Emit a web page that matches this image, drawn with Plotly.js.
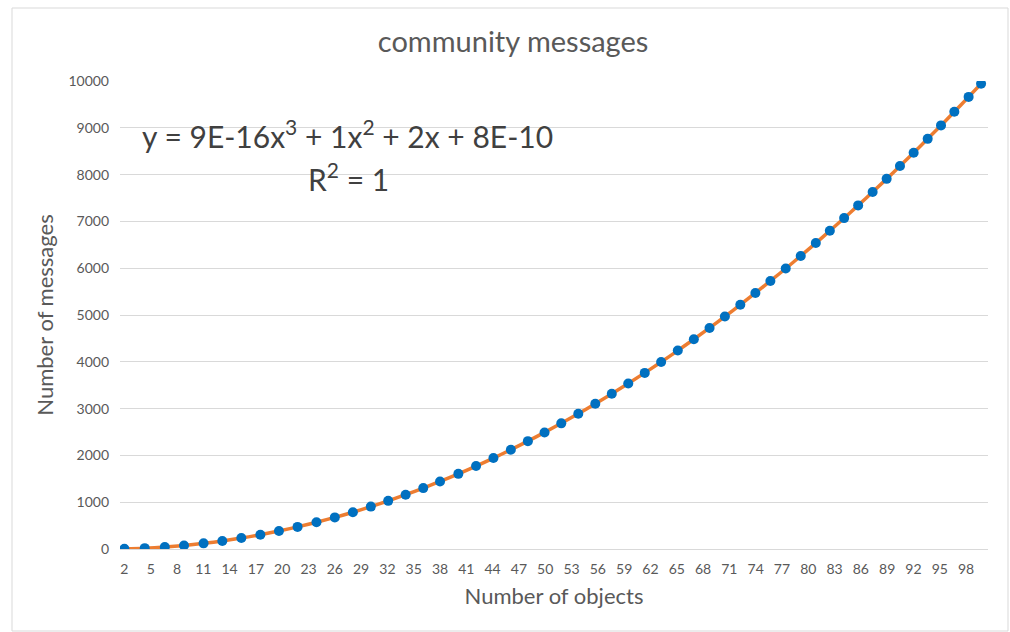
<!DOCTYPE html>
<html>
<head>
<meta charset="utf-8">
<script src="https://cdn.plot.ly/plotly-3.0.1.min.js"></script>
<style>html,body{margin:0;padding:0;background:#fff;}#chart{width:1010px;height:632px;}</style>
</head>
<body>
<div id="chart"></div>
<script>
// Number of objects (x position of each marker)
var objects = [2.00, 4.32, 6.61, 8.80, 11.03, 13.17, 15.34, 17.51, 19.63, 21.75,
  23.91, 26.00, 28.06, 30.11, 32.09, 34.08, 36.09, 38.00, 40.09, 42.11,
  44.09, 46.08, 48.02, 49.92, 51.83, 53.77, 55.71, 57.59, 59.47, 61.35,
  63.22, 65.12, 66.95, 68.74, 70.49, 72.25, 73.97, 75.68, 77.43, 79.14,
  80.86, 82.46, 84.09, 85.69, 87.34, 88.94, 90.46, 92.02, 93.62, 95.14,
  96.66, 98.29, 99.71];
// Number of messages
var messages = [3, 18, 43, 76, 121, 172, 234, 306, 384, 472,
  571, 675, 786, 906, 1029, 1160, 1301, 1443, 1606, 1772,
  1943, 2122, 2305, 2491, 2685, 2890, 3103, 3316, 3536, 3763,
  3996, 4240, 4481, 4724, 4968, 5219, 5471, 5727, 5994, 6262,
  6537, 6799, 7070, 7342, 7627, 7909, 8182, 8467, 8764, 9051,
  9342, 9660, 9941];
// Category tick labels
var xTicks = [2,5,8,11,14,17,20,23,26,29,32,35,38,41,44,47,50,53,56,59,62,65,68,71,74,77,80,83,86,89,92,95,98];
var yTicks = [0,1000,2000,3000,4000,5000,6000,7000,8000,9000,10000];
var chartTitle = 'community messages';
var xTitle = 'Number of objects';
var yTitle = 'Number of messages';
var equation = 'y = 9E-16x<sup>3</sup> + 1x<sup>2</sup> + 2x + 8E-10';
var rSquared = 'R<sup>2</sup> = 1';

var FONT = 'Lato, "Open Sans", sans-serif';
var GRAY = '#595959';

var traces = [
  {
    x: objects, y: messages, type: 'scatter', mode: 'lines',
    line: {color: '#ED7D31', width: 3.5, shape: 'spline'},
    hoverinfo: 'skip', showlegend: false
  },
  {
    x: objects, y: messages, type: 'scatter', mode: 'markers',
    marker: {color: '#0070C0', size: 10},
    showlegend: false
  }
];

var layout = {
  width: 1010, height: 632,
  margin: {l: 120, r: 22, t: 81, b: 83},
  paper_bgcolor: '#ffffff', plot_bgcolor: '#ffffff',
  font: {family: FONT, color: GRAY},
  title: {
    text: chartTitle,
    font: {family: FONT, size: 29, color: GRAY},
    x: 0.508, xanchor: 'center', xref: 'container',
    y: 1 - 42/632, yanchor: 'middle', yref: 'container'
  },
  xaxis: {
    range: [1.5, 100.5],
    tickmode: 'array', tickvals: xTicks, ticktext: xTicks.map(String),
    showgrid: false, zeroline: false, showline: false, ticks: '',
    tickfont: {family: FONT, size: 14, color: GRAY},
    ticklabelstandoff: 10,
    title: {text: xTitle, font: {family: FONT, size: 22, color: GRAY}, standoff: 12},
    fixedrange: true
  },
  yaxis: {
    range: [0, 10000],
    tickmode: 'array', tickvals: yTicks, ticktext: yTicks.map(String),
    showgrid: true, gridcolor: '#d9d9d9', gridwidth: 1,
    zeroline: true, zerolinecolor: '#d9d9d9', zerolinewidth: 1,
    showline: false, ticks: '',
    tickfont: {family: FONT, size: 14, color: GRAY},
    ticklabelstandoff: 10,
    title: {text: yTitle, font: {family: FONT, size: 22, color: GRAY}, standoff: 8},
    fixedrange: true
  },
  annotations: [
    {
      text: equation, xref: 'paper', yref: 'paper',
      x: (347.5 - 120)/868, y: (549 - 134)/468, xanchor: 'center', yanchor: 'middle',
      showarrow: false, font: {family: FONT, size: 30, color: '#404040'}
    },
    {
      text: rSquared, xref: 'paper', yref: 'paper',
      x: (348 - 120)/868, y: (549 - 177)/468, xanchor: 'center', yanchor: 'middle',
      showarrow: false, font: {family: FONT, size: 30, color: '#404040'}
    }
  ],
  shapes: [
    {
      type: 'rect', xref: 'paper', yref: 'paper',
      x0: (12 - 120)/868, x1: (1008 - 120)/868,
      y0: (549 - 631)/468, y1: (549 - 8)/468,
      line: {color: '#d9d9d9', width: 1}, fillcolor: 'rgba(0,0,0,0)', layer: 'below'
    }
  ]
};

Plotly.newPlot('chart', traces, layout, {displayModeBar: false, staticPlot: true});
</script>
</body>
</html>
